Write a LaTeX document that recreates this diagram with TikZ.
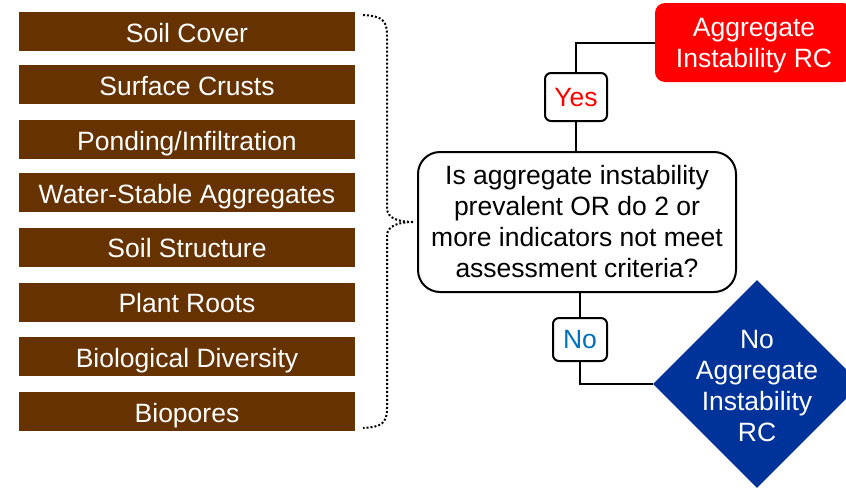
\documentclass[tikz,border=0pt]{standalone}
\usepackage{fontspec}
\setmainfont{Liberation Sans}
\usetikzlibrary{shapes.geometric}
\definecolor{soil}{HTML}{663300}
\definecolor{navy}{HTML}{003399}
\definecolor{nored}{HTML}{FF0000}
\definecolor{noblue}{HTML}{0070C0}
\begin{document}
\begin{tikzpicture}[x=1pt,y=-1pt,
  every node/.style={font=\fontsize{26.5}{31}\selectfont},
  soilbox/.style={fill=soil, text=white, minimum width=336pt, minimum height=39pt,
    inner sep=0pt, text height=22pt, text depth=1pt},
  conn/.style={line width=2pt, black},
  tagbox/.style={draw=black, line width=2pt, fill=white, rounded corners=6pt,
    inner sep=0pt, text height=21pt, text depth=3pt}]
\useasboundingbox (0,0) rectangle (846,490);
\clip (0,0) rectangle (846,490);

\node[soilbox] (s1) at (187,31.5) {Soil Cover};
\node[soilbox] (s2) at (187,84.5) {Surface Crusts};
\node[soilbox] (s3) at (187,139.5) {Ponding/Infiltration};
\node[soilbox] (s4) at (187,192.5) {Water-Stable Aggregates};
\node[soilbox] (s5) at (187,247) {Soil Structure};
\node[soilbox] (s6) at (187,302) {Plant Roots};
\node[soilbox] (s7) at (187,356.5) {Biological Diversity};
\node[soilbox] (s8) at (187,411.5) {Biopores};

\coordinate (btop) at (363,15);
\coordinate (btip) at (414,222);
\coordinate (bbot) at (363,428);
\draw[line width=2pt, dash pattern=on 2pt off 2pt]
  (btop) .. controls (384,16) and (387,22) .. (387,36) -- (387,208)
  .. controls (387,219) and (400,222) .. (btip)
  .. controls (400,222) and (387,225) .. (387,236) -- (387,408)
  .. controls (387,423) and (382,427) .. (bbot);

\node[draw=black, line width=2pt, fill=white, rounded corners=22pt,
  minimum width=318pt, minimum height=140pt, align=center, inner sep=0pt]
  (dec) at (577,222) {Is aggregate instability\\prevalent OR do 2 or\\more indicators not meet\\assessment criteria?};

\node[fill=nored, rounded corners=10pt, minimum width=198pt,
  minimum height=79pt, inner sep=0pt] (red) at (754,42.5) {};
\node[text=white, align=center, inner sep=0pt] (redtext) at (754,46)
  {Aggregate\\Instability RC};

\node[diamond, fill=navy, minimum width=208pt, minimum height=208pt,
  inner sep=0pt, aspect=1] (nd) at (757,384) {};
\node[text=white, align=center, inner sep=0pt] (ndtext) at (757,386)
  {No\\Aggregate\\Instability\\RC};

\node[tagbox, text=nored, minimum width=62pt, minimum height=48pt] (yes) at (576,97) {Yes};
\node[tagbox, text=noblue, minimum width=54pt, minimum height=43pt] (no) at (580,339.5) {No};

\draw[conn] (yes.south) -- (yes.south |- dec.north);
\draw[conn] (yes.north) |- (red.west);
\draw[conn] (no.north |- dec.south) -- (no.north);
\draw[conn] (no.south) |- (nd.west);
\end{tikzpicture}
\end{document}
